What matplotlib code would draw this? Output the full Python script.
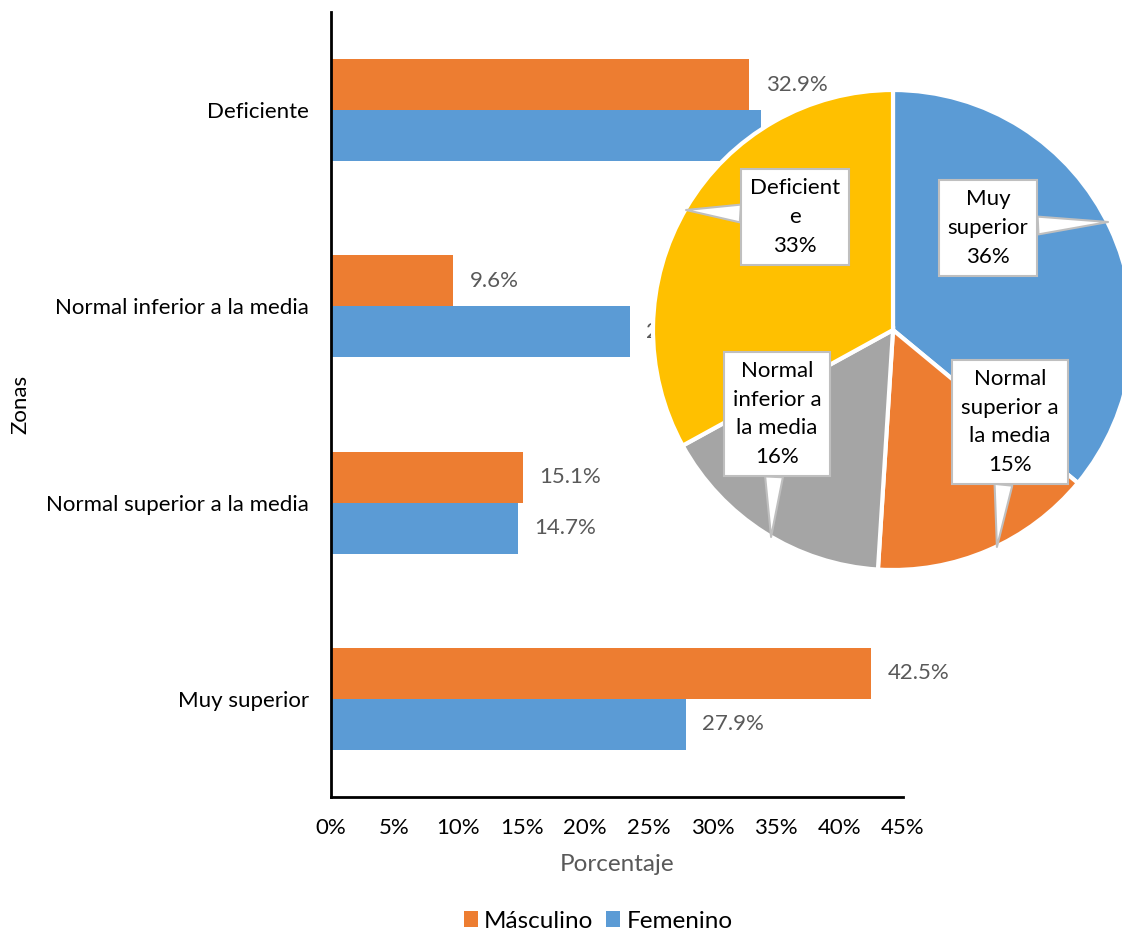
import matplotlib
matplotlib.use("Agg")
import matplotlib.pyplot as plt
import numpy as np

# datos de las barras (porcentaje por zona y sexo)
zonas = ["Deficiente", "Normal inferior a la media", "Normal superior a la media", "Muy superior"]
masculino = [32.9, 9.6, 15.1, 42.5]
femenino = [33.8, 23.5, 14.7, 27.9]

# datos del circular (total)
pie_labels = ["Muy\nsuperior", "Normal\nsuperior a\nla media", "Normal\ninferior a\nla media", "Deficient\ne"]
pie_vals = [36, 15, 16, 33]

NARANJA = "#ED7D31"
AZUL = "#5B9BD5"
GRIS = "#A5A5A5"
AMARILLO = "#FFC000"
TXT_GRIS = "#595959"

plt.rcParams["font.family"] = ["Lato", "DejaVu Sans"]

fig = plt.figure(figsize=(11.22, 9.32), dpi=100)

# grafico de barras
ax = fig.add_axes([331 / 1122, 1 - 797 / 932, 572 / 1122, 785 / 932])
y = np.arange(len(zonas))
h = 0.26
b1 = ax.barh(y - h / 2, masculino, height=h, color=NARANJA, label="Másculino")
b2 = ax.barh(y + h / 2, femenino, height=h, color=AZUL, label="Femenino")
ax.bar_label(b1, fmt="%.1f%%", padding=12, color=TXT_GRIS, fontsize=16)
ax.bar_label(b2, fmt="%.1f%%", padding=12, color=TXT_GRIS, fontsize=16)

ax.set_ylim(3.5, -0.5)
ax.set_xlim(0, 45)
ax.set_yticks(y)
ax.set_yticklabels(zonas, fontsize=16)
ax.set_xticks(np.arange(0, 46, 5))
ax.set_xticklabels([f"{v}%" for v in range(0, 46, 5)], fontsize=16)
ax.tick_params(axis="both", length=0)
ax.tick_params(axis="y", pad=16)
ax.tick_params(axis="x", pad=15)
for s in ["top", "right"]:
    ax.spines[s].set_visible(False)
for s in ["left", "bottom"]:
    ax.spines[s].set_linewidth(2)
    ax.spines[s].set_color("black")

ax.set_xlabel("Porcentaje", fontsize=17.5, color=TXT_GRIS)
ax.xaxis.set_label_coords(0.5, -0.072)
ax.set_ylabel("Zonas", fontsize=16)
ax.yaxis.set_label_coords(-0.526, 0.5)

fig.legend(handles=[b1, b2], loc="center", bbox_to_anchor=(598 / 1122, 1 - 921 / 932),
           ncol=2, frameon=False, fontsize=17.5, handlelength=0.6, handleheight=0.6,
           handletextpad=0.25, columnspacing=0.5)

# grafico circular encima
pax = fig.add_axes([653 / 1122, 1 - 570 / 932, 480 / 1122, 480 / 932])
pax.pie(pie_vals, colors=[AZUL, NARANJA, GRIS, AMARILLO], startangle=90, counterclock=False,
        wedgeprops=dict(edgecolor="white", linewidth=3))
pax.set_xlim(-1, 1)
pax.set_ylim(-1, 1)
pax.set_aspect("equal")
pax.axis("off")

# etiquetas tipo globo: (centro del texto, punta)
globos = [((0.396, 0.425), (0.896, 0.45)),
          ((0.4875, -0.383), (0.433, -0.904)),
          ((-0.483, -0.35), (-0.508, -0.8625)),
          ((-0.408, 0.471), (-0.8625, 0.5))]
for lab, val, (pos, tip) in zip(pie_labels, pie_vals, globos):
    pax.annotate(f"{lab}\n{val}%", xy=tip, xytext=pos, ha="center", va="center",
                 fontsize=16, linespacing=1.55,
                 bbox=dict(boxstyle="square,pad=0.4", fc="white", ec="#BFBFBF", lw=1.5),
                 arrowprops=dict(arrowstyle="wedge,tail_width=0.8", fc="white", ec="#BFBFBF",
                                 lw=1.5, shrinkA=0, shrinkB=0))

fig.savefig("out.png", dpi=100)
